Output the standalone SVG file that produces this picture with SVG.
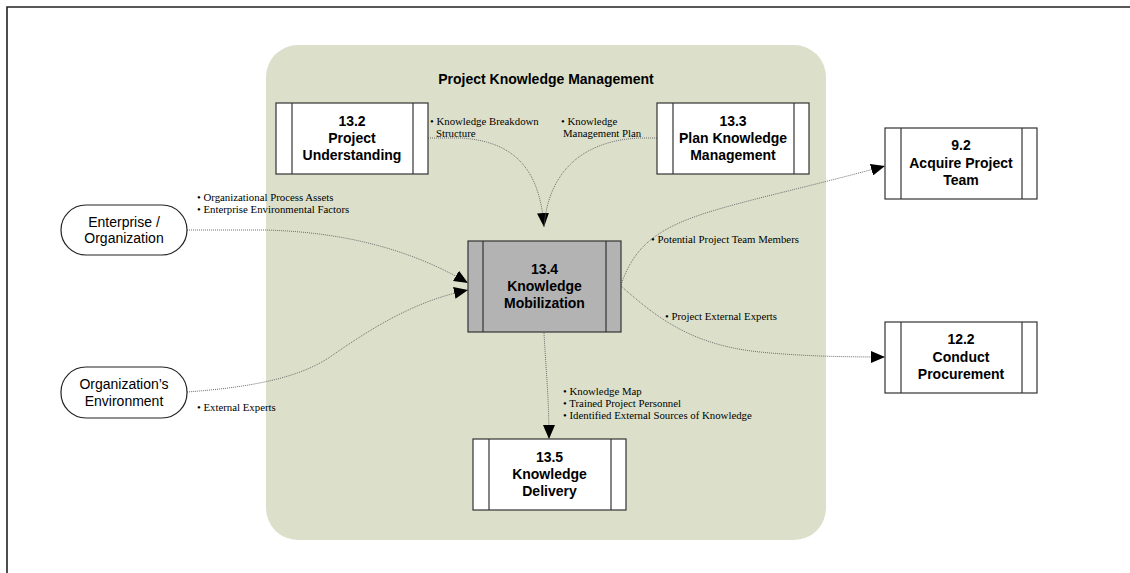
<svg xmlns="http://www.w3.org/2000/svg" width="1130" height="573" viewBox="0 0 1130 573">
<defs>
<marker id="arr" markerWidth="14" markerHeight="12" refX="14" refY="6" orient="auto" markerUnits="userSpaceOnUse">
<path d="M0,0 L14,6 L0,12 z" fill="#000"/>
</marker>
<style>
.proc{fill:#fff;stroke:#333;stroke-width:1.2}
.bar{stroke:#333;stroke-width:1.2}
.ptxt{font-family:"Liberation Sans",Arial,sans-serif;font-size:14px;font-weight:bold;fill:#000;text-anchor:middle}
.etxt{font-family:"Liberation Sans",Arial,sans-serif;font-size:14px;fill:#000;text-anchor:middle}
.lbl{font-family:"Liberation Serif","Times New Roman",serif;font-size:10.8px;fill:#000}
.con{fill:none;stroke:#6f6f6f;stroke-width:1;stroke-dasharray:1,1}
</style>
</defs>
<rect width="1130" height="573" fill="#fff"/>
<path d="M7,573 L7,7 L1130,7" fill="none" stroke="#222" stroke-width="1.6"/>
<rect id="pkm" x="266" y="45" width="560" height="495" rx="32" fill="#dce0ca"/>
<text x="546" y="84" class="ptxt">Project Knowledge Management</text>

<g id="connectors">
<path class="con" d="M428,138 L460,138 C515,141 540,170 544,227" marker-end="url(#arr)"/>
<path class="con" d="M657,138 L640,138 C590,140 549,165 544,227"/>
<path class="con" d="M187,230 L265,230 C345,232 412,250 468,283" marker-end="url(#arr)"/>
<path class="con" d="M187,392 C255,387 300,377 330,357 C380,322 420,300 468,290" marker-end="url(#arr)"/>
<path class="con" d="M621,285 C645,213 705,215 885,166" marker-end="url(#arr)"/>
<path class="con" d="M621,286 C655,316 690,345 760,352 C800,356 840,357 885,357" marker-end="url(#arr)"/>
<path class="con" d="M544,333 C546,370 549,400 549,439" marker-end="url(#arr)"/>
</g>

<g id="labels">
<text class="lbl" x="197" y="200.5">• Organizational Process Assets</text>
<text class="lbl" x="197" y="212.5">• Enterprise Environmental Factors</text>
<text class="lbl" x="197" y="410.5">• External Experts</text>
<text class="lbl" x="430" y="124.5">• Knowledge Breakdown</text>
<text class="lbl" x="436" y="136.5">Structure</text>
<text class="lbl" x="561" y="124.5">• Knowledge</text>
<text class="lbl" x="563" y="136.5">Management Plan</text>
<text class="lbl" x="651" y="242.5">• Potential Project Team Members</text>
<text class="lbl" x="665" y="319.5">• Project External Experts</text>
<text class="lbl" x="563" y="394.5">• Knowledge Map</text>
<text class="lbl" x="563" y="406.5">• Trained Project Personnel</text>
<text class="lbl" x="563" y="418.5">• Identified External Sources of Knowledge</text>
</g>

<g id="n132">
<rect class="proc" x="276" y="103" width="152" height="71"/>
<line class="bar" x1="292" y1="103" x2="292" y2="174"/>
<line class="bar" x1="413" y1="103" x2="413" y2="174"/>
<text class="ptxt" x="352" y="126">13.2</text>
<text class="ptxt" x="352" y="143">Project</text>
<text class="ptxt" x="352" y="160">Understanding</text>
</g>

<g id="n133">
<rect class="proc" x="657" y="103" width="152" height="71"/>
<line class="bar" x1="673" y1="103" x2="673" y2="174"/>
<line class="bar" x1="794" y1="103" x2="794" y2="174"/>
<text class="ptxt" x="733" y="126">13.3</text>
<text class="ptxt" x="733" y="143">Plan Knowledge</text>
<text class="ptxt" x="733" y="160">Management</text>
</g>

<g id="n92">
<rect class="proc" x="885" y="128" width="152" height="71"/>
<line class="bar" x1="901" y1="128" x2="901" y2="199"/>
<line class="bar" x1="1022" y1="128" x2="1022" y2="199"/>
<text class="ptxt" x="961" y="150">9.2</text>
<text class="ptxt" x="961" y="168">Acquire Project</text>
<text class="ptxt" x="961" y="185">Team</text>
</g>

<g id="n122">
<rect class="proc" x="885" y="322" width="152" height="71"/>
<line class="bar" x1="901" y1="322" x2="901" y2="393"/>
<line class="bar" x1="1022" y1="322" x2="1022" y2="393"/>
<text class="ptxt" x="961" y="344">12.2</text>
<text class="ptxt" x="961" y="362">Conduct</text>
<text class="ptxt" x="961" y="379">Procurement</text>
</g>

<g id="n134">
<rect class="proc" x="468" y="241" width="153" height="91" style="fill:#b3b3b3"/>
<line class="bar" x1="483" y1="241" x2="483" y2="332"/>
<line class="bar" x1="606" y1="241" x2="606" y2="332"/>
<text class="ptxt" x="544.5" y="274">13.4</text>
<text class="ptxt" x="544.5" y="291">Knowledge</text>
<text class="ptxt" x="544.5" y="308">Mobilization</text>
</g>

<g id="n135">
<rect class="proc" x="473" y="439" width="153" height="71"/>
<line class="bar" x1="489" y1="439" x2="489" y2="510"/>
<line class="bar" x1="611" y1="439" x2="611" y2="510"/>
<text class="ptxt" x="549.5" y="462">13.5</text>
<text class="ptxt" x="549.5" y="479">Knowledge</text>
<text class="ptxt" x="549.5" y="496">Delivery</text>
</g>

<g id="ent">
<rect x="61" y="205" width="126" height="50" rx="25" fill="#fff" stroke="#222" stroke-width="1.2"/>
<text class="etxt" x="124" y="227">Enterprise /</text>
<text class="etxt" x="124" y="243">Organization</text>
</g>

<g id="env">
<rect x="61" y="367" width="126" height="51" rx="25" fill="#fff" stroke="#222" stroke-width="1.2"/>
<text class="etxt" x="124" y="389">Organization’s</text>
<text class="etxt" x="124" y="406">Environment</text>
</g>
</svg>
